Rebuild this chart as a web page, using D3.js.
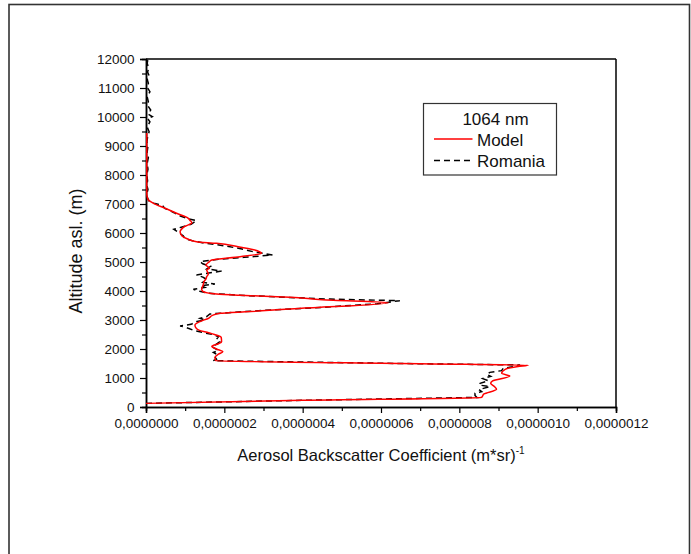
<!DOCTYPE html>
<html>
<head>
<meta charset="utf-8">
<script src="https://cdn.jsdelivr.net/npm/d3@7"></script>
<style>
  html, body { margin: 0; padding: 0; background: #fff; }
  svg { display: block; font-family: "Liberation Sans", Arial, sans-serif; }
</style>
</head>
<body>
<script>
// ---- data (backscatter values in units of 1e-7 (m*sr)^-1, altitude in m) ----
const modelAlt = [125, 230, 335, 450, 610, 700, 816, 900, 1069, 1161, 1300, 1400, 1440, 1490, 1600,
  1714, 1820, 1908, 2000, 2090, 2180, 2253, 2400, 2500, 2560, 2650, 2735, 2828, 2950, 3060, 3160, 3230,
  3290, 3400, 3597, 3700, 3783, 3852, 3897, 3977, 4060, 4207, 4321, 4420, 4494, 4590, 4724, 4782, 4897,
  4990, 5069, 5183, 5300, 5420, 5528, 5645, 5700, 5800, 5900, 6045, 6150, 6217, 6355, 6440, 6507, 6679,
  6852, 7024, 7138, 7250, 7400, 7800, 8200, 8800, 9450];
const modelVal = [0, 4.0, 8.57, 8.63, 8.95, 8.9, 8.80, 8.85, 9.29, 9.08, 9.17, 9.5, 9.76, 7.0, 1.78,
  1.76, 1.85, 1.96, 1.8, 1.68, 1.85, 1.93, 1.92, 1.75, 1.6, 1.35, 1.27, 1.25, 1.38, 1.6, 1.7, 1.89,
  2.66, 3.9, 6.19, 4.5, 3.68, 2.4, 1.8, 1.46, 1.42, 1.46, 1.48, 1.53, 1.55, 1.59, 1.55, 1.62, 1.53,
  1.6, 1.68, 2.4, 2.95, 2.75, 2.35, 1.80, 1.29, 1.05, 0.92, 0.87, 0.92, 0.98, 1.17, 1.12, 1.08, 0.78,
  0.49, 0.19, 0.06, 0.03, 0.02, 0.02, 0.02, 0.02, 0.02];

const romaniaAlt = [125, 230, 330, 400, 471, 528, 600, 700, 760, 816, 907, 980, 1060, 1120, 1195, 1253,
  1333, 1414, 1450, 1490, 1597, 1650, 1740, 1816, 1880, 1950, 2080, 2150, 2250, 2330, 2425, 2500, 2570,
  2650, 2713, 2760, 2793, 2850, 2950, 3000, 3057, 3120, 3207, 3260, 3330, 3420, 3560, 3666, 3720, 3800,
  3860, 3920, 3980, 4057, 4120, 4180, 4241, 4300, 4400, 4480, 4552, 4620, 4690, 4760, 4850, 4940, 5011,
  5080, 5160, 5241, 5350, 5450, 5560, 5650, 5720, 5800, 5900, 6000, 6126, 6200, 6300, 6425, 6500, 6600,
  6700, 6850, 6950, 7024, 7100, 7200, 7300, 7400, 7500, 7650, 7800, 8000, 8200, 8400, 8600, 8800, 9000,
  9150, 9300, 9493, 9650, 9838, 9950, 10011, 10100, 10241, 10400, 10528, 10700, 10872, 11000, 11161,
  11300, 11390, 11550, 11679, 11850, 12000];
const romaniaVal = [0, 4.0, 8.45, 8.40, 8.40, 8.57, 8.5, 8.78, 8.5, 8.53, 8.74, 8.6, 8.8, 8.7, 8.78, 9.08,
  9.12, 9.46, 9.55, 7.0, 1.72, 1.80, 1.75, 1.80, 1.72, 1.85, 1.68, 1.78, 1.88, 1.8, 1.85, 1.7, 1.45,
  1.2, 1.08, 1.0, 0.87, 1.15, 1.3, 1.5, 1.38, 1.55, 1.63, 2.2, 3.0, 4.3, 5.9, 6.48, 4.7, 3.3,
  2.3, 1.6, 1.4, 1.21, 1.5, 1.4, 1.76, 1.45, 1.55, 1.45, 1.29, 1.6, 1.93, 1.55, 1.65, 1.45, 1.38,
  1.75, 2.5, 3.23, 2.75, 2.45, 2.0, 1.5, 1.22, 1.0, 0.95, 0.85, 0.71, 0.9, 1.15, 1.29, 1.05, 0.85,
  0.72, 0.48, 0.42, 0.2, 0.08, 0.04, 0.02, 0.03, 0.05, 0.02, 0.04, 0.02, 0.05, 0.03, 0.06, 0.03, 0.05,
  0.02, 0.04, 0.08, 0.03, 0.1, 0.04, 0.16, 0.05, 0.12, 0.04, 0.06, 0.03, 0.1, 0.04, 0.06,
  0.03, 0.09, 0.04, 0.07, 0.03, 0.05];

const UNIT = 1e-7;
const xMajorTicks = [0, 2e-7, 4e-7, 6e-7, 8e-7, 1.0e-6, 1.2e-6];
const xMinorTicks = [1e-7, 3e-7, 5e-7, 7e-7, 9e-7, 1.1e-6];
const yMajorTicks = [0, 1000, 2000, 3000, 4000, 5000, 6000, 7000, 8000, 9000, 10000, 11000, 12000];
const yMinorTicks = [500, 1500, 2500, 3500, 4500, 5500, 6500, 7500, 8500, 9500, 10500, 11500];
const legendTitle = "1064 nm";
const seriesNames = ["Model", "Romania"];
const xTitle = "Aerosol Backscatter Coefficient (m*sr)";
const yTitle = "Altitude asl. (m)";

// ---- drawing ----
const W = 691, H = 554;
const X0 = 146, X1 = 616, Y0 = 59, Y1 = 407;

const svg = d3.select("body").append("svg").attr("width", W).attr("height", H);

// outer frame
svg.append("rect").attr("x", 9).attr("y", 4.5).attr("width", 680.5).attr("height", 560)
  .attr("fill", "none").attr("stroke", "#333").attr("stroke-width", 1.6);

const x = d3.scaleLinear().domain([0, 1.2e-6]).range([X0, X1]);
const y = d3.scaleLinear().domain([0, 12000]).range([Y1, Y0]);

const fmtX = v => v.toFixed(7).replace(".", ",");

// top & right borders
svg.append("line").attr("x1", X0).attr("x2", X1).attr("y1", Y0).attr("y2", Y0)
  .attr("stroke", "#000").attr("stroke-width", 1.5);
svg.append("line").attr("x1", X1).attr("x2", X1).attr("y1", Y0).attr("y2", Y1)
  .attr("stroke", "#000").attr("stroke-width", 1.5);

function styleAxis(g) {
  g.select(".domain").attr("stroke", "#000").attr("stroke-width", 1.5);
  g.selectAll(".tick line").attr("stroke", "#000").attr("stroke-width", 1.2);
  g.selectAll("text").attr("fill", "#111").style("font-size", "13.5px")
    .style("font-family", "'Liberation Sans', Arial, sans-serif");
}

// minor ticks
svg.append("g").attr("transform", `translate(0,${Y1})`)
  .call(d3.axisBottom(x).tickValues(xMinorTicks).tickSize(4).tickFormat(""))
  .call(styleAxis);
svg.append("g").attr("transform", `translate(${X0},0)`)
  .call(d3.axisLeft(y).tickValues(yMinorTicks).tickSize(4).tickFormat(""))
  .call(styleAxis);
// major ticks
svg.append("g").attr("transform", `translate(0,${Y1})`)
  .call(d3.axisBottom(x).tickValues(xMajorTicks).tickSize(6).tickPadding(5).tickFormat(fmtX))
  .call(styleAxis);
svg.append("g").attr("transform", `translate(${X0},0)`)
  .call(d3.axisLeft(y).tickValues(yMajorTicks).tickSize(6).tickPadding(5.5).tickFormat(d3.format("d")))
  .call(styleAxis);

// series
const model = modelAlt.map((a, i) => ({ alt: a, v: modelVal[i] * UNIT }));
const romania = romaniaAlt.map((a, i) => ({ alt: a, v: romaniaVal[i] * UNIT }));

const lineSmooth = d3.line().x(d => x(d.v)).y(d => y(d.alt)).curveMonotoneY ? null : null;
const lineM = d3.line().x(d => x(d.v)).y(d => y(d.alt)).curve(d3.curveMonotoneY);
const lineR = d3.line().x(d => x(d.v)).y(d => y(d.alt));

svg.append("path").datum(romania).attr("d", lineR)
  .attr("fill", "none").attr("stroke", "#000").attr("stroke-width", 1.5)
  .attr("stroke-dasharray", "6,4");
svg.append("path").datum(model).attr("d", lineM)
  .attr("fill", "none").attr("stroke", "#ff0000").attr("stroke-width", 1.5);

// axis titles
const xt = svg.append("text").attr("x", 381).attr("y", 461).attr("text-anchor", "middle")
  .style("font-size", "16.5px").attr("fill", "#111");
xt.append("tspan").text(xTitle);
xt.append("tspan").attr("dy", -7).style("font-size", "10px").text("-1");

svg.append("text").attr("transform", "translate(82,251) rotate(-90)")
  .attr("text-anchor", "middle").style("font-size", "18px").attr("fill", "#111").text(yTitle);

// legend
const lg = svg.append("g");
lg.append("rect").attr("x", 423.5).attr("y", 103.5).attr("width", 133).attr("height", 71.5)
  .attr("fill", "#fff").attr("stroke", "#333").attr("stroke-width", 1.2);
lg.append("text").attr("x", 495.5).attr("y", 124.5).attr("text-anchor", "middle")
  .style("font-size", "17px").attr("fill", "#111").text(legendTitle);
lg.append("line").attr("x1", 434).attr("x2", 472.5).attr("y1", 139).attr("y2", 139)
  .attr("stroke", "#ff0000").attr("stroke-width", 1.5);
lg.append("line").attr("x1", 434).attr("x2", 474).attr("y1", 160.5).attr("y2", 160.5)
  .attr("stroke", "#000").attr("stroke-width", 1.5).attr("stroke-dasharray", "6,4");
lg.append("text").attr("x", 477).attr("y", 145.5).style("font-size", "17px").attr("fill", "#111").text(seriesNames[0]);
lg.append("text").attr("x", 477).attr("y", 166.5).style("font-size", "17px").attr("fill", "#111").text(seriesNames[1]);
</script>
</body>
</html>
